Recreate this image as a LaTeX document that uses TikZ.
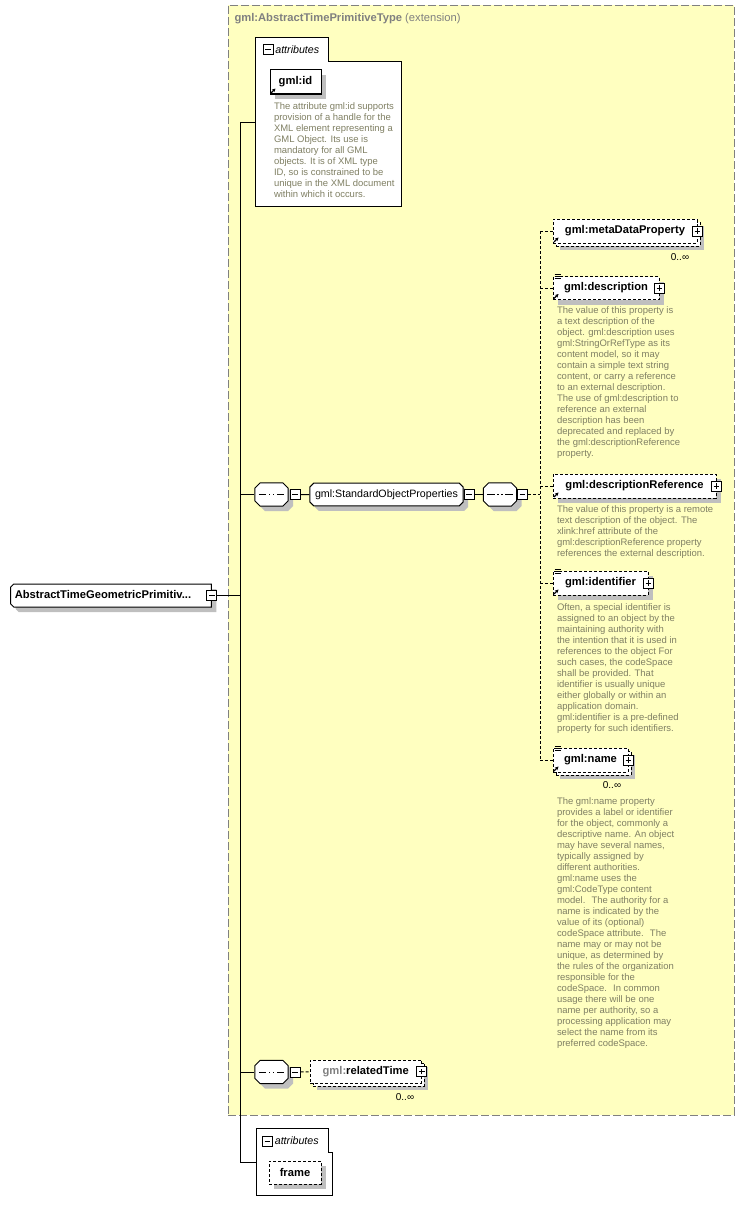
\documentclass[tikz,border=0pt]{standalone}
\usepackage{fontspec}
\setmainfont{Liberation Sans}
\usetikzlibrary{arrows.meta,shapes.misc,positioning,fit,backgrounds}
\definecolor{rumena}{RGB}{255,255,192}
\definecolor{robna}{RGB}{128,128,128}
\definecolor{razlagalna}{RGB}{128,128,100}
\tikzset{
	diagram/.style={x=0.75pt, y=-0.75pt, line width=0.75pt, font=\fontsize{8}{10}\selectfont},
	pika/.style={dash pattern=on 2.25pt off 1.5pt},
	senca/.style={preaction={draw=none, fill=black!25, transform canvas={shift={(5,5)}}}},
	vecsenca/.style={preaction={draw=none, fill=black!25, transform canvas={shift={(7,7)}}},
	                 preaction={draw, fill=white, pika, transform canvas={shift={(3,3)}}}},
	blok/.style={draw, fill=white, inner sep=2pt, minimum height=18pt,
	             font=\fontsize{8.4}{10}\selectfont\bfseries},
	element/.style={blok, senca},
	izbirni/.style={blok, pika, senca},
	vecizbirni/.style={blok, pika, vecsenca},
	gumb/.style={draw, solid, fill=white, minimum size=7.5pt, inner sep=0pt},
	minusgumb/.style={gumb, path picture={
		\draw ([xshift=1.6pt]path picture bounding box.west) -- ([xshift=-1.6pt]path picture bounding box.east);}},
	plusgumb/.style={gumb, path picture={
		\draw ([xshift=1.6pt]path picture bounding box.west) -- ([xshift=-1.6pt]path picture bounding box.east)
		      ([yshift=1.6pt]path picture bounding box.south) -- ([yshift=-1.6pt]path picture bounding box.north);}},
	zaporedje/.style={chamfered rectangle, chamfered rectangle xsep=1.9pt, chamfered rectangle ysep=1.9pt,
	                  draw, fill=white, inner xsep=10.5pt, inner ysep=6.75pt, senca,
	                  path picture={
		\draw ([xshift=3pt]path picture bounding box.west) -- ([xshift=-3pt]path picture bounding box.east);
		\foreach \dx in {-3pt,0pt,3pt}
			\fill ([xshift=\dx]path picture bounding box.center) ++(-1.1pt,-1.1pt) rectangle ++(2.2pt,2.2pt);}},
	skupina/.style={chamfered rectangle, chamfered rectangle xsep=1.5pt, chamfered rectangle ysep=1.5pt,
	                draw, fill=white, inner xsep=2.4pt, inner ysep=3.2pt, text height=6pt, text depth=1.75pt,
	                senca},
	glavni/.style={chamfered rectangle, chamfered rectangle corners={north west,south west},
	               chamfered rectangle xsep=1.2pt, chamfered rectangle ysep=1.2pt, draw, fill=white,
	               inner xsep=2pt, inner ysep=3.55pt, text height=6pt, text depth=1.75pt,
	               text width=144.3pt, align=left, font=\fontsize{8.4}{10}\selectfont\bfseries, senca},
	tok/.style={draw, line width=0.75pt},
	tokpika/.style={tok, pika},
	atribut/.style={draw, fill=white},
	razlaga/.style={anchor=north west, align=left, inner sep=0pt, text=razlagalna,
	                font=\fontsize{7.1}{8.25}\selectfont},
	oznaka/.style={font=\fontsize{7.5}{9}\selectfont, inner sep=0pt},
	naslov/.style={text=robna, inner sep=0pt, font=\fontsize{8.4}{10}\selectfont},
	obmocje/.style={draw=robna, fill=rumena, dash pattern=on 6pt off 2.25pt, inner sep=0pt},
}

\begin{document}
\begin{tikzpicture}[diagram]
\useasboundingbox (0,0) rectangle (745,1213);

% ---------- razsiritev ----------
\node[naslov, anchor=west] (naslov) at (234,19) {\textbf{gml:AbstractTimePrimitiveType} (extension)};

% ---------- atributi ----------
\draw[atribut] (255,38) -- (328,38) -- (328,62) -- (401,62) -- (401,206) -- (255,206) -- cycle;
\node[minusgumb] (atr1m) at (268,50) {};
\node[anchor=west, inner sep=1pt] (atr1) at (atr1m.east) {\itshape attributes};
\node[element, minimum width=38.25pt] (id) at (295.5,82) {gml:id};
\node[razlaga] (idr) at (273.5,102.5)
    {The attribute gml:id supports\\ provision of a handle for the\\ XML element representing a\\
     GML Object. Its use is\\ mandatory for all GML\\ objects. It is of XML type\\
     ID, so is constrained to be\\ unique in the XML document\\ within which it occurs.};

\draw[atribut] (256,1128) -- (328,1128) -- (328,1152) -- (332,1152) -- (332,1195) -- (256,1195) -- cycle;
\node[minusgumb] (atr2m) at (267.5,1141) {};
\node[anchor=west, inner sep=1pt] (atr2) at (atr2m.east) {\itshape attributes};
\node[izbirni, minimum width=39pt, minimum height=17.25pt] (okvir) at (295,1172.5) {frame};

% ---------- koren in zaporedja ----------
\node[glavni] (koren) at (111,595.5) {AbstractTimeGeometricPrimitiv...};
\node[minusgumb] (korenm) at (koren.east) {};

\node[zaporedje] (zap1) at (271.5,494.5) {};
\node[minusgumb, right=0.75pt of zap1] (zap1m) {};
\node[skupina] (skupina) at (386.5,494.5) {gml:StandardObjectProperties};
\node[minusgumb, right=0pt of skupina] (skupinam) {};
\node[zaporedje] (zap2) at (500,494.5) {};
\node[minusgumb, right=0pt of zap2] (zap2m) {};

\node[zaporedje] (zap3) at (271.5,1072) {};
\node[minusgumb, right=0.75pt of zap3] (zap3m) {};
\node[vecizbirni, minimum width=83.6pt, minimum height=17.25pt] (povezan) at (365.75,1071.5)
    {\textcolor{robna}{gml:}relatedTime};
\node[plusgumb] (povezanp) at (povezan.east) {};
\node[oznaka] (povezank) at (405,1097) {0..∞};

% ---------- elementi ----------
\node[vecizbirni, minimum width=108pt] (meta) at (625,231) {gml:metaDataProperty};
\node[plusgumb] (metap) at (meta.east) {};
\node[oznaka] (metak) at (680,257) {0..∞};

\node[izbirni, minimum width=79.5pt, minimum height=17.25pt] (opis) at (606,288) {gml:description};
\node[plusgumb] (opisp) at (opis.east) {};
\node[razlaga] (opisr) at (556.5,306.5)
    {The value of this property is\\ a text description of the\\ object. gml:description uses\\
     gml:StringOrRefType as its\\ content model, so it may\\ contain a simple text string\\
     content, or carry a reference\\ to an external description.\\ The use of gml:description to\\
     reference an external\\ description has been\\ deprecated and replaced by\\
     the gml:descriptionReference\\ property.};

\node[izbirni, minimum width=122.25pt] (opisref) at (634.5,486) {gml:descriptionReference};
\node[plusgumb] (opisrefp) at (opisref.east) {};
\node[razlaga] (opisrefr) at (556.5,505.5)
    {The value of this property is a remote\\ text description of the object. The\\
     xlink:href attribute of the\\ gml:descriptionReference property\\ references the external description.};

\node[izbirni, minimum width=71.25pt] (ident) at (600.5,583) {gml:identifier};
\node[plusgumb] (identp) at (ident.east) {};
\node[razlaga] (identr) at (556.5,603.5)
    {Often, a special identifier is\\ assigned to an object by the\\ maintaining authority with\\
     the intention that it is used in\\ references to the object For\\ such cases, the codeSpace\\
     shall be provided. That\\ identifier is usually unique\\ either globally or within an\\
     application domain.\\ gml:identifier is a pre-defined\\ property for such identifiers.};

\node[vecizbirni, minimum width=56.25pt] (ime) at (590.5,760) {gml:name};
\node[plusgumb] (imep) at (ime.east) {};
\node[oznaka] (imek) at (612,785) {0..∞};
\node[razlaga] (imer) at (556.5,797.5)
    {The gml:name property\\ provides a label or identifier\\ for the object, commonly a\\
     descriptive name. An object\\ may have several names,\\ typically assigned by\\
     different authorities.\\ gml:name uses the\\ gml:CodeType content\\
     model.~ The authority for a\\ name is indicated by the\\ value of its (optional)\\
     codeSpace attribute.~ The\\ name may or may not be\\ unique, as determined by\\
     the rules of the organization\\ responsible for the\\ codeSpace.~ In common\\
     usage there will be one\\ name per authority, so a\\ processing application may\\
     select the name from its\\ preferred codeSpace.};

% ---------- ikone ----------
\foreach \n in {id,meta,opis,opisref,ident,ime}
    \draw[-{Stealth[length=2.6pt,width=2.6pt]}, line width=0.9pt] ([shift={(1.5,-1.5)}]\n.south west) -- ++(4.5,-4.5);
\foreach \n in {opis,ident,ime}
    \foreach \d in {-1.5,0.5,2.5}
        \draw[line width=0.5pt] ([shift={(2,\d)}]\n.north west) -- ++(6,0);

% ---------- povezave ----------
\coordinate (v1) at (240,122);
\coordinate (v2) at (240,1162);
\coordinate (a1) at (255,122);
\coordinate (a2) at (256,1162);
\coordinate (razcep) at (540,494.5);

\draw[tok] (v1) -- (v2);
\draw[tok] (v1) -- (a1);
\draw[tok] (v2) -- (a2);
\draw[tok] (korenm) -- (korenm -| v1);
\draw[tok] (zap1.west -| v1) -- (zap1);
\draw[tok] (zap1m) -- (skupina);
\draw[tok] (skupinam) -- (zap2);
\draw[tokpika] (zap2m) -- (razcep);
\draw[tokpika] (razcep |- meta.west) -- (razcep |- ime.west);
\foreach \n in {meta,opis,opisref,ident,ime}
    \draw[tokpika] (razcep |- \n.west) -- (\n.west);
\draw[tok] (zap3.west -| v1) -- (zap3);
\draw[tokpika] (zap3m) -- (povezan);

% ---------- obmocje ----------
\begin{scope}[on background layer]
    \node[obmocje, fit={(228,5) (734,1115)}] (razsiritev) {};
\end{scope}

\end{tikzpicture}
\end{document}
